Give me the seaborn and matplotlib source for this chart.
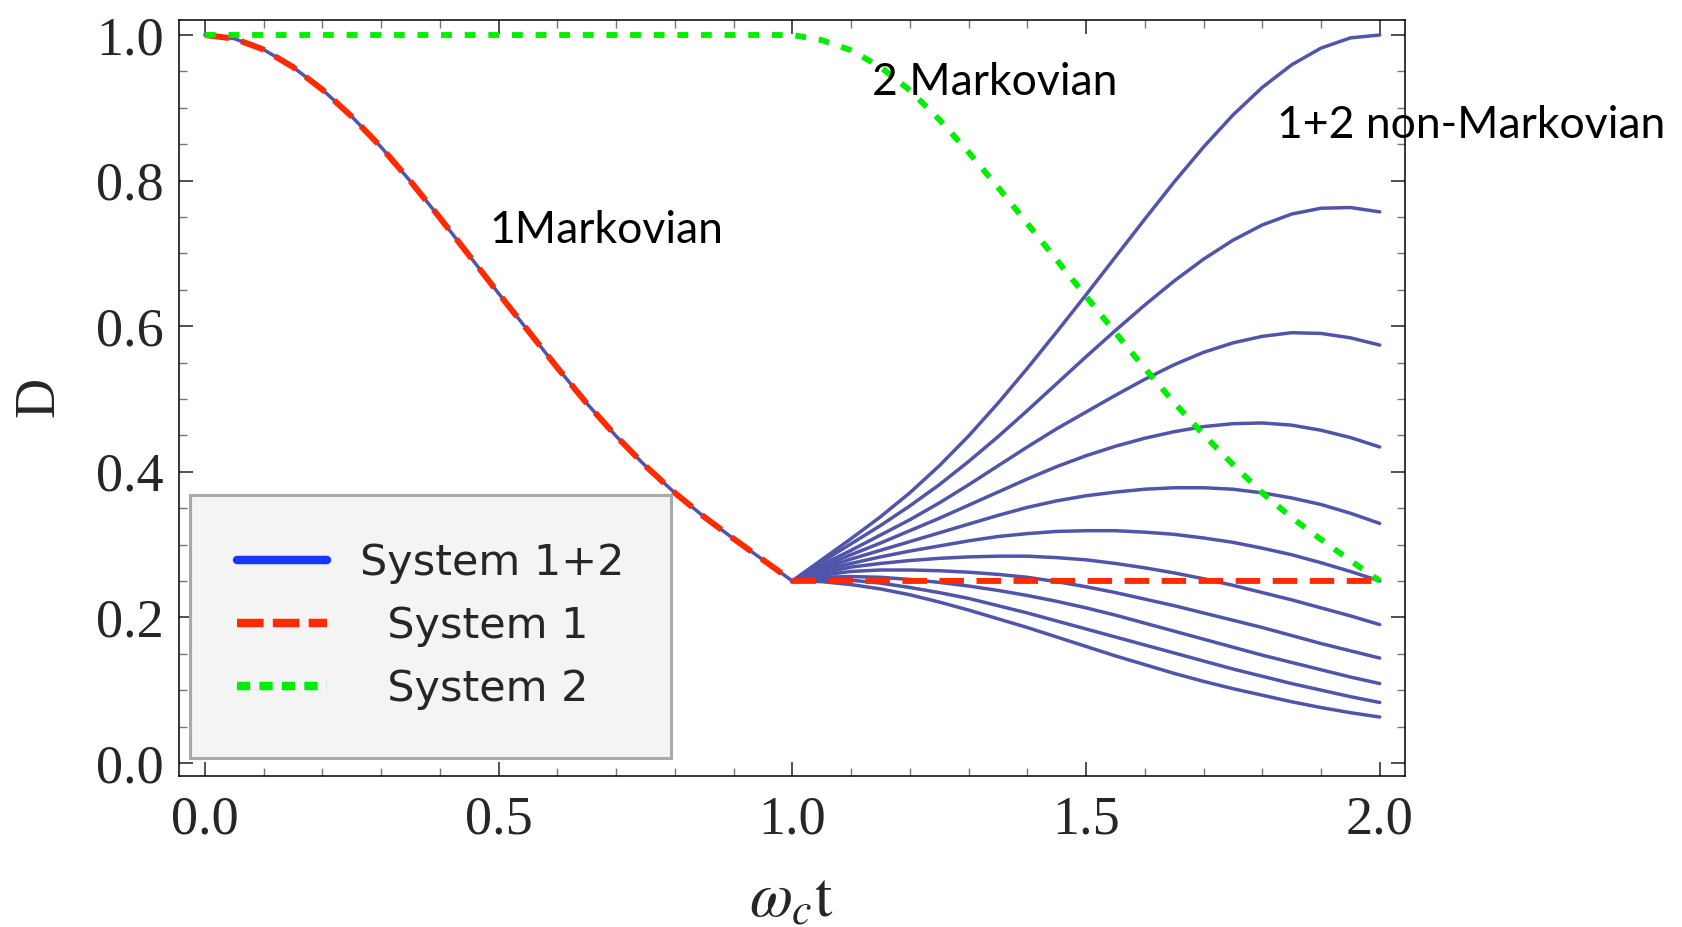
import numpy as np
import pandas as pd
import matplotlib
matplotlib.use("Agg")
import matplotlib.pyplot as plt
from matplotlib.lines import Line2D
from matplotlib.ticker import MultipleLocator
import seaborn as sns

# ---------------- data ----------------
x_left = [0.00, 0.05, 0.10, 0.15, 0.20, 0.25, 0.30, 0.35, 0.40, 0.45, 0.50,
          0.55, 0.60, 0.65, 0.70, 0.75, 0.80, 0.85, 0.90, 0.95, 1.00]
sys1_left = [1.000, 0.995, 0.980, 0.956, 0.925, 0.888, 0.846, 0.799, 0.749, 0.697, 0.645,
             0.594, 0.543, 0.494, 0.449, 0.408, 0.371, 0.338, 0.308, 0.279, 0.250]
sys1_end_x = 2.0
sys1_end_D = 0.25

x_right = [1.00, 1.05, 1.10, 1.15, 1.20, 1.25, 1.30, 1.35, 1.40, 1.45, 1.50,
           1.55, 1.60, 1.65, 1.70, 1.75, 1.80, 1.85, 1.90, 1.95, 2.00]
sys2_start_x = 0.0
sys2_right = [1.000, 0.993, 0.979, 0.956, 0.924, 0.884, 0.839, 0.791, 0.741, 0.691, 0.641,
              0.591, 0.542, 0.495, 0.451, 0.410, 0.371, 0.337, 0.307, 0.278, 0.250]

fan_B1 = [0.250, 0.279, 0.308, 0.338, 0.371, 0.408, 0.449, 0.494, 0.542, 0.592, 0.643,
          0.695, 0.747, 0.798, 0.846, 0.890, 0.928, 0.959, 0.982, 0.996, 1.000]
fan_B2 = [0.250, 0.276, 0.301, 0.326, 0.353, 0.382, 0.414, 0.448, 0.484, 0.521, 0.558,
          0.594, 0.629, 0.662, 0.692, 0.718, 0.739, 0.754, 0.762, 0.763, 0.757]
fan_B3 = [0.250, 0.272, 0.292, 0.313, 0.334, 0.357, 0.382, 0.408, 0.434, 0.459, 0.482,
          0.505, 0.527, 0.547, 0.564, 0.577, 0.586, 0.591, 0.590, 0.584, 0.574]
fan_B4 = [0.250, 0.269, 0.286, 0.302, 0.319, 0.336, 0.354, 0.372, 0.390, 0.407, 0.422,
          0.435, 0.446, 0.455, 0.462, 0.466, 0.467, 0.464, 0.457, 0.447, 0.434]
fan_B5 = [0.250, 0.266, 0.280, 0.292, 0.304, 0.316, 0.328, 0.340, 0.351, 0.360, 0.367,
          0.372, 0.376, 0.378, 0.378, 0.376, 0.371, 0.364, 0.355, 0.343, 0.329]
fan_B6 = [0.250, 0.264, 0.274, 0.283, 0.291, 0.298, 0.305, 0.311, 0.315, 0.318, 0.319,
          0.319, 0.317, 0.314, 0.309, 0.303, 0.295, 0.286, 0.275, 0.263, 0.250]
fan_B7 = [0.250, 0.261, 0.269, 0.274, 0.278, 0.281, 0.283, 0.284, 0.284, 0.282, 0.279,
          0.274, 0.268, 0.261, 0.253, 0.244, 0.234, 0.224, 0.213, 0.202, 0.190]
fan_B8 = [0.250, 0.258, 0.263, 0.265, 0.265, 0.264, 0.262, 0.259, 0.255, 0.249, 0.242,
          0.234, 0.225, 0.216, 0.206, 0.196, 0.186, 0.175, 0.164, 0.154, 0.144]
fan_B9 = [0.250, 0.255, 0.256, 0.255, 0.252, 0.248, 0.243, 0.237, 0.230, 0.222, 0.213,
          0.203, 0.192, 0.181, 0.170, 0.159, 0.148, 0.138, 0.128, 0.118, 0.109]
fan_B10 = [0.250, 0.252, 0.251, 0.247, 0.241, 0.234, 0.226, 0.216, 0.206, 0.195, 0.184,
           0.173, 0.162, 0.151, 0.140, 0.129, 0.119, 0.109, 0.100, 0.091, 0.083]
fan_B11 = [0.250, 0.249, 0.245, 0.239, 0.231, 0.221, 0.210, 0.198, 0.186, 0.173, 0.160,
           0.147, 0.135, 0.123, 0.112, 0.102, 0.093, 0.084, 0.076, 0.069, 0.063]
fan_curves = [fan_B1, fan_B2, fan_B3, fan_B4, fan_B5, fan_B6,
              fan_B7, fan_B8, fan_B9, fan_B10, fan_B11]

legend_labels = ["System 1+2", "  System 1", "  System 2"]
annotations = ["1Markovian", "2 Markovian", "1+2 non-Markovian"]
annot_pos = [(0.485, 0.714), (1.135, 0.918), (1.825, 0.859)]
x_ticks = [0.0, 0.5, 1.0, 1.5, 2.0]
y_ticks = [0.0, 0.2, 0.4, 0.6, 0.8, 1.0]

# ---------------- style ----------------
BLUE = "#5055aa"
BLUE_LEG = "#1438ff"
RED = "#ff2a00"
GREEN = "#00ee00"

sns.set_theme(style="ticks")
plt.rcParams["font.family"] = ["Liberation Serif", "DejaVu Serif"]
plt.rcParams["mathtext.fontset"] = "stix"
plt.rcParams["axes.linewidth"] = 1.1
plt.rcParams["axes.edgecolor"] = "black"

fig = plt.figure(figsize=(16.83, 9.27), dpi=100)
fig.patch.set_facecolor("white")
ax = fig.add_axes([179 / 1683, 1 - 776 / 927, 1226 / 1683, 756 / 927])
ax.set_facecolor("white")

# system 1+2 (blue): shared part and the fan
sns.lineplot(x=x_left, y=sys1_left, ax=ax, color=BLUE, lw=2.5, zorder=2,
             legend=False)
rows = []
for k, curve in enumerate(fan_curves):
    for xv, yv in zip(x_right, curve):
        rows.append({"x": xv, "D": yv, "curve": k})
df_fan = pd.DataFrame(rows)
sns.lineplot(data=df_fan, x="x", y="D", units="curve", estimator=None,
             ax=ax, color=BLUE, lw=2.5, zorder=2, legend=False)

# system 1 (red dashed)
sys1_x = x_left + [sys1_end_x]
sys1_y = sys1_left + [sys1_end_D]
sns.lineplot(x=sys1_x, y=sys1_y, ax=ax, color=RED, lw=4.3,
             linestyle=(0, (4.1, 2.1)), zorder=3, legend=False)

# system 2 (green dotted)
sys2_x = [sys2_start_x] + x_right
sys2_y = [1.0] + sys2_right
sns.lineplot(x=sys2_x, y=sys2_y, ax=ax, color=GREEN, lw=4.2,
             linestyle=(0, (1.85, 2.2)), zorder=4, legend=False)

# axes
ax.set_xlim(-0.044, 2.043)
ax.set_ylim(-0.018, 1.0206)
ax.xaxis.set_major_locator(MultipleLocator(0.5))
ax.xaxis.set_minor_locator(MultipleLocator(0.1))
ax.yaxis.set_major_locator(MultipleLocator(0.2))
ax.yaxis.set_minor_locator(MultipleLocator(0.05))
ax.set_xticks(x_ticks)
ax.set_xticklabels([f"{v:.1f}" for v in x_ticks])
ax.set_yticks(y_ticks)
ax.set_yticklabels([f"{v:.1f}" for v in y_ticks])
ax.tick_params(which="both", direction="in", top=True, right=True)
ax.tick_params(which="major", length=10, width=1.1, color="#222222",
               labelsize=39)
ax.tick_params(which="minor", length=5.8, width=1.0, color="#777777")
ax.tick_params(axis="x", which="major", pad=14)
ax.tick_params(axis="y", which="major", pad=11)
for sp in ax.spines.values():
    sp.set_visible(True)
    sp.set_color("black")
    sp.set_linewidth(1.1)

ax.set_xlabel(r"$\omega_c\mathrm{t}$", fontsize=45)
ax.xaxis.set_label_coords(0.499, -0.127)
ax.set_ylabel("D", fontsize=40)
ax.yaxis.set_label_coords(-0.093, 0.501)

# annotations
for txt, (tx, ty) in zip(annotations, annot_pos):
    ax.text(tx, ty, txt, family="Lato", fontsize=32, ha="left",
            va="baseline", color="black", clip_on=False, zorder=6)

# legend
handles = [
    Line2D([], [], color=BLUE_LEG, lw=6.1),
    Line2D([], [], color=RED, lw=6.1, linestyle=(0, (3.14, 1.09))),
    Line2D([], [], color=GREEN, lw=6.1, linestyle=(0, (1.56, 1.09))),
]
leg = ax.legend(handles, legend_labels, loc="lower left",
                bbox_to_anchor=(0.009, 0.024), borderaxespad=0,
                prop={"family": "DejaVu Sans", "size": 31},
                handlelength=2.07, handletextpad=0.77, labelspacing=0.49,
                borderpad=1.1, frameon=True, fancybox=False, framealpha=1)
frame = leg.get_frame()
frame.set_facecolor("#f4f4f4")
frame.set_edgecolor("#aaaaaa")
frame.set_linewidth(2.2)
leg.set_zorder(5)

fig.savefig("out.png", dpi=100, facecolor="white")
